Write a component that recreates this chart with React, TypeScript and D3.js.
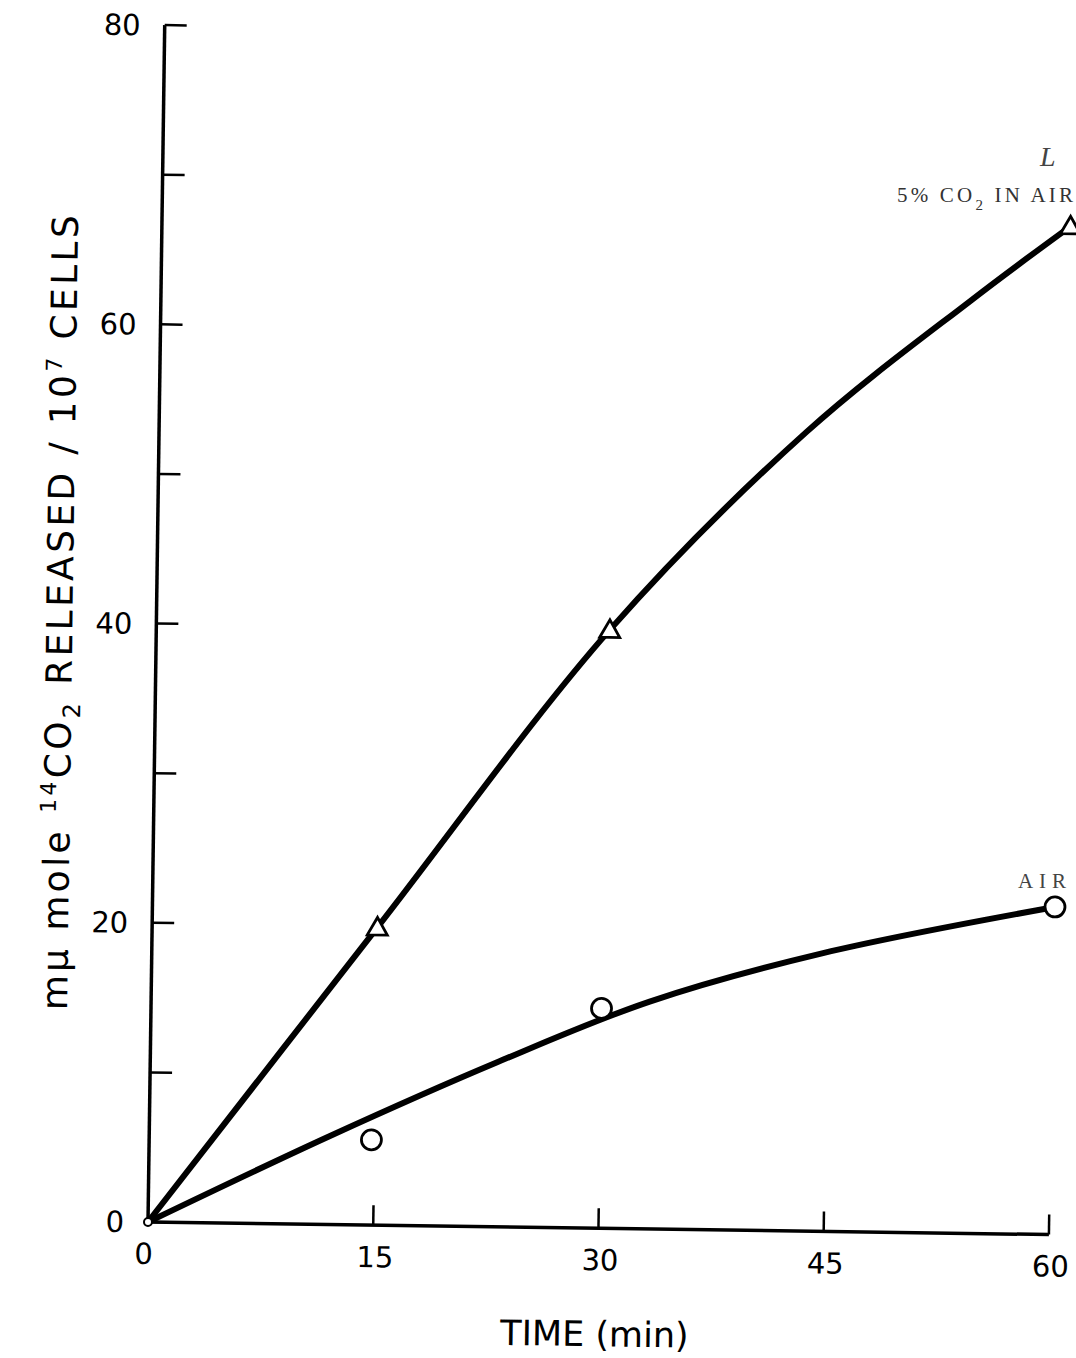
import React from 'react';
import * as d3 from 'd3';

// data
const minutes = [0, 15, 30, 45, 60];
const yTicks = [0, 10, 20, 30, 40, 50, 60, 70, 80];
const yLabels = [0, 20, 40, 60, 80];

// 5% CO2 in air (triangles)
const co2Points: [number, number][] = [[15, 19.9], [30.2, 40.0], [60.5, 67.4]];
const co2Curve: [number, number][] = [[0, 0], [15, 19.9], [30.2, 40.0], [43.1, 53.4], [54, 62.4], [60.5, 67.4]];

// air (circles)
const airPoints: [number, number][] = [[14.8, 5.7], [30.0, 14.7], [60.1, 21.9]];
const airCurve: [number, number][] = [[0, 0], [12, 5.9], [23.1, 11.0], [33.2, 15.2], [44.7, 18.6], [60.1, 21.9]];

const W = 1076;
const H = 1358;
const ox = 148;
const oy = 1222;

export default function App() {
  const x = d3.scaleLinear().domain([0, 60]).range([ox, 1049]);
  const y = d3.scaleLinear().domain([0, 80]).range([oy, 25]);

  const line = d3.line<[number, number]>()
    .x(d => x(d[0]))
    .y(d => y(d[1]))
    .curve(d3.curveCatmullRom.alpha(0.5));

  const tri = (cx: number, cy: number) => {
    const s = 10;
    return `M${cx},${cy - s} L${cx + s},${cy + s * 0.75} L${cx - s},${cy + s * 0.75} Z`;
  };

  const font = "'DejaVu Sans', sans-serif";
  const serif = "'Liberation Serif', serif";

  return (
    <div style={{ position: 'absolute', left: 0, top: 0 }}>
      <svg width={W} height={H} style={{ display: 'block', background: '#fff' }}>
        {/* the scan is tilted slightly clockwise */}
        <g transform={`rotate(0.8, ${ox}, ${oy})`}>
          {/* axes */}
          <line x1={ox} y1={oy + 3} x2={ox} y2={y(80)} stroke="#000" strokeWidth={3.5} />
          <line x1={ox} y1={oy} x2={x(60)} y2={oy} stroke="#000" strokeWidth={3.5} />

          {yTicks.map(t => (
            <line key={'yt' + t} x1={ox} x2={ox + 22} y1={y(t)} y2={y(t)} stroke="#000" strokeWidth={2.5} />
          ))}
          {minutes.slice(1).map(t => (
            <line key={'xt' + t} x1={x(t)} x2={x(t)} y1={oy} y2={oy - 20} stroke="#000" strokeWidth={2.5} />
          ))}

          {yLabels.map(t => (
            <text key={'yl' + t} x={ox - 24} y={y(t)} dy="0.36em" textAnchor="end"
              fontFamily={font} fontSize={29} fill="#000">{t}</text>
          ))}
          {minutes.map(t => (
            <text key={'xl' + t} x={x(t) + (t === 0 ? -4 : 2)} y={oy + 42} textAnchor="middle"
              fontFamily={font} fontSize={29} fill="#000">{t}</text>
          ))}

          {/* axis titles */}
          <text transform={`translate(64, 614) rotate(-90)`} textAnchor="middle"
            fontFamily={font} fontSize={36} fill="#000" textLength={795} lengthAdjust="spacing">
            mμ mole <tspan dy={-14} fontSize={22}>14</tspan><tspan dy={14}>CO</tspan><tspan dy={9} fontSize={24}>2</tspan><tspan dy={-9}> RELEASED / 10</tspan><tspan dy={-14} fontSize={22}>7</tspan><tspan dy={14}> CELLS</tspan>
          </text>
          <text x={596} y={1340} textAnchor="middle" fontFamily={font} fontSize={35} fill="#000">TIME (min)</text>

          {/* curves */}
          <path d={line(co2Curve) || ''} fill="none" stroke="#000" strokeWidth={6} strokeLinecap="round" />
          <path d={line(airCurve) || ''} fill="none" stroke="#000" strokeWidth={6} strokeLinecap="round" />

          {/* markers */}
          <circle cx={x(0)} cy={y(0)} r={4} fill="#fff" stroke="#000" strokeWidth={2} />
          {co2Points.map((d, i) => (
            <path key={'tri' + i} d={tri(x(d[0]), y(d[1]))} fill="#fff" stroke="#000" strokeWidth={2.8} />
          ))}
          {airPoints.map((d, i) => (
            <circle key={'cir' + i} cx={x(d[0])} cy={y(d[1])} r={10} fill="#fff" stroke="#000" strokeWidth={2.8} />
          ))}
        </g>

        {/* series labels, placed in page coordinates */}
        <text x={1040} y={166} fontFamily={serif} fontStyle="italic" fontSize={28} fill="#444">L</text>
        <text x={897} y={202} fontFamily={serif} fontSize={21} fill="#333" textLength={176} lengthAdjust="spacing">
          5% CO<tspan dy={8} fontSize={15}>2</tspan><tspan dy={-8}>  IN AIR</tspan>
        </text>
        <text x={1018} y={888} fontFamily={serif} fontSize={21} fill="#444" textLength={48} lengthAdjust="spacing">AIR</text>
      </svg>
    </div>
  );
}
